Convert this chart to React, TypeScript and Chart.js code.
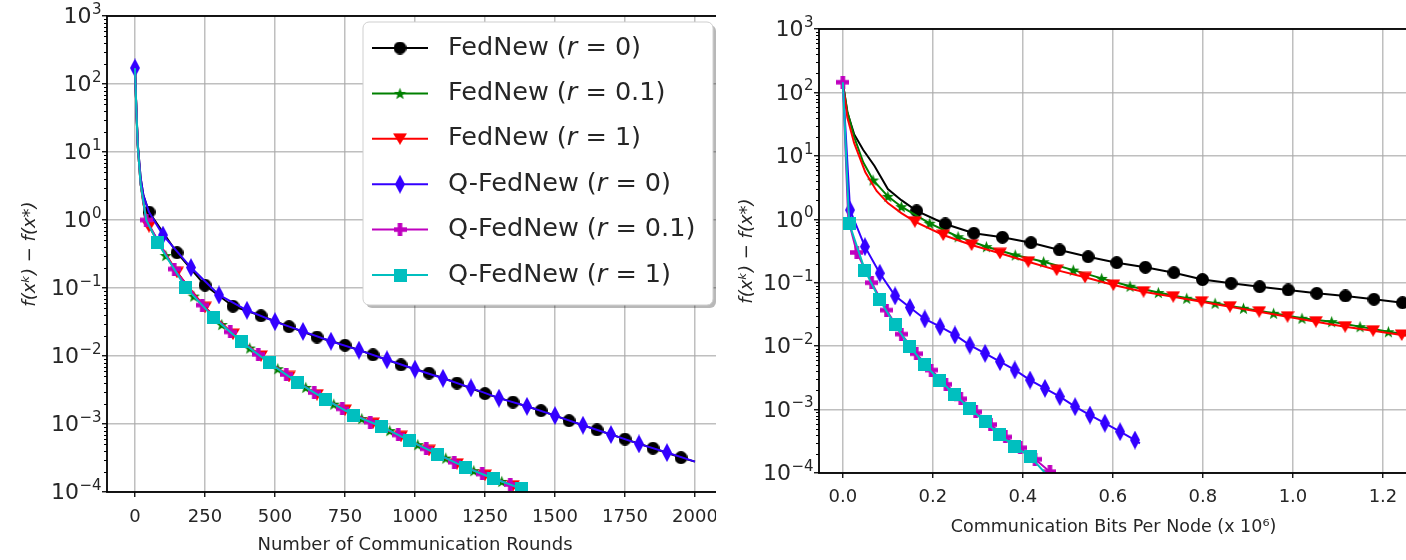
import React, { useEffect, useRef } from 'react';
import { Chart, registerables } from 'chart.js';

Chart.register(...registerables);

const FONT = "'DejaVu Sans'";
const TEXT = '#262626';
const GRID = 'rgba(170,170,170,0.75)';

// ---------- series meta ----------
const seriesNames = ['FedNew', 'FedNew', 'FedNew', 'Q-FedNew', 'Q-FedNew', 'Q-FedNew'];
const seriesR = ['0', '0.1', '1', '0', '0.1', '1'];
const seriesColors = ['#000000', '#008000', '#ff0000', '#3300ff', '#bf00bf', '#00bfbf'];
const seriesMarkers = ['o', '*', 'v', 'd', 'P', 's'];

// ---------- axes ----------
const roundTicks = [0, 250, 500, 750, 1000, 1250, 1500, 1750, 2000];
const bitTicks = [0, 0.2, 0.4, 0.6, 0.8, 1.0, 1.2];
const decadeTicks = [1e-4, 1e-3, 1e-2, 1e-1, 1, 10, 100, 1000];
const decadeBase = '10';
const decadeExponents = ['−4', '−3', '−2', '−1', '0', '1', '2', '3'];

// ---------- left panel: rounds ----------
const lBlackX = [0, 5, 10, 20, 30, 50, 150, 250, 350, 450, 550, 650, 750, 850, 950, 1050, 1150, 1250, 1350, 1450, 1550, 1650, 1750, 1850, 1950, 2000];
const lBlackY = [168, 42, 13, 4.2, 2.3, 1.31, 0.33, 0.11, 0.054, 0.039, 0.027, 0.019, 0.0144, 0.0104, 0.0074, 0.0056, 0.004, 0.0028, 0.0021, 0.00157, 0.00112, 0.00082, 0.0006, 0.00044, 0.00032, 0.00028];
const lBlackMarks = [[5, 24]];

const lGreenX = [0, 5, 10, 20, 40, 110, 210, 310, 410, 510, 610, 710, 810, 910, 1010, 1110, 1210, 1310, 1390];
const lGreenY = [170, 40, 12, 3.4, 1.0, 0.30, 0.076, 0.029, 0.0131, 0.0065, 0.00345, 0.00196, 0.0012, 0.0008, 0.000497, 0.000315, 0.000206, 0.000143, 0.0001];
const lGreenMarks = [[5, 17]];

const lRedX = [0, 5, 10, 20, 30, 50, 150, 250, 350, 450, 550, 650, 750, 850, 950, 1050, 1150, 1250, 1350, 1390];
const lRedY = [170, 40, 12, 3.4, 1.7, 0.8, 0.17, 0.052, 0.021, 0.01, 0.005, 0.0027, 0.0016, 0.00103, 0.00066, 0.00041, 0.00026, 0.000177, 0.000124, 0.0001];
const lRedMarks = [[5, 18]];

const lBlueX = [0, 5, 10, 20, 30, 50, 100, 200, 300, 400, 500, 600, 700, 800, 900, 1000, 1100, 1200, 1300, 1400, 1500, 1600, 1700, 1800, 1900, 2000];
const lBlueY = [172, 42, 13, 4.2, 2.3, 1.31, 0.6, 0.2, 0.079, 0.047, 0.032, 0.023, 0.0165, 0.0122, 0.0088, 0.0064, 0.0047, 0.0034, 0.0024, 0.00182, 0.00133, 0.00096, 0.0007, 0.00051, 0.00038, 0.00028];
const lBlueMarks = [[0, 0], [6, 24]];

const lMagX = [0, 5, 10, 20, 40, 140, 240, 340, 440, 540, 640, 740, 840, 940, 1040, 1140, 1240, 1340, 1390];
const lMagY = [170, 40, 12, 3.4, 1.0, 0.19, 0.056, 0.0226, 0.0106, 0.00535, 0.0029, 0.00167, 0.00107, 0.00069, 0.000432, 0.000275, 0.000184, 0.000129, 0.0001];
const lMagMarks = [[4, 17]];

const lCyanX = [0, 5, 10, 20, 40, 80, 180, 280, 380, 480, 580, 680, 780, 880, 980, 1080, 1180, 1280, 1380, 1400];
const lCyanY = [170, 40, 12, 3.4, 1.0, 0.47, 0.103, 0.037, 0.0162, 0.0079, 0.0041, 0.0023, 0.00135, 0.00092, 0.00057, 0.00036, 0.00023, 0.000158, 0.000112, 0.0001];
const lCyanMarks = [[5, 18]];

// ---------- right panel: bits per node (x 10^6) ----------
const rBlackX = [0, 0.01, 0.025, 0.045, 0.07, 0.1, 0.13, 0.164, 0.2275, 0.291, 0.3545, 0.418, 0.4815, 0.545, 0.6085, 0.672, 0.7355, 0.799, 0.8625, 0.926, 0.9895, 1.053, 1.1165, 1.18, 1.2435, 1.27];
const rBlackY = [140, 48, 22, 12.5, 7, 3.0, 2.0, 1.36, 0.843, 0.601, 0.52, 0.428, 0.328, 0.257, 0.207, 0.175, 0.144, 0.112, 0.098, 0.0865, 0.0768, 0.068, 0.0618, 0.0548, 0.0484, 0.046];
const rBlackMarks = [[7, 24]];

const rGreenX = [0, 0.01, 0.025, 0.045, 0.067, 0.1, 0.13, 0.193, 0.256, 0.319, 0.383, 0.446, 0.512, 0.575, 0.638, 0.701, 0.764, 0.827, 0.89, 0.957, 1.02, 1.086, 1.149, 1.212, 1.27];
const rGreenY = [140, 50, 20, 8, 4.16, 2.3, 1.58, 0.865, 0.531, 0.37, 0.274, 0.214, 0.158, 0.117, 0.088, 0.07, 0.0568, 0.0474, 0.0395, 0.033, 0.0275, 0.0243, 0.0203, 0.0169, 0.0145];
const rGreenMarks = [[4, 23]];

const rRedX = [0, 0.01, 0.025, 0.05, 0.075, 0.1, 0.13, 0.16, 0.223, 0.286, 0.349, 0.412, 0.475, 0.538, 0.601, 0.668, 0.734, 0.797, 0.86, 0.925, 0.988, 1.051, 1.116, 1.178, 1.2416, 1.27];
const rRedY = [140, 40, 16, 5.5, 2.8, 1.8, 1.25, 0.916, 0.565, 0.393, 0.291, 0.214, 0.158, 0.1216, 0.092, 0.0722, 0.0602, 0.0502, 0.0419, 0.0349, 0.0291, 0.0243, 0.0203, 0.0175, 0.015, 0.014];
const rRedMarks = [[7, 24]];

const rBlueX = [0, 0.016, 0.049, 0.082, 0.116, 0.149, 0.182, 0.216, 0.249, 0.282, 0.316, 0.349, 0.382, 0.416, 0.449, 0.482, 0.516, 0.549, 0.582, 0.616, 0.649, 0.66];
const rBlueY = [140, 1.4, 0.37, 0.141, 0.062, 0.0407, 0.0268, 0.0203, 0.015, 0.0104, 0.0077, 0.00569, 0.00421, 0.00292, 0.00216, 0.0016, 0.00111, 0.00082, 0.00061, 0.000448, 0.000331, 0.000294];
const rBlueMarks = [[1, 20]];

const rMagX = [0, 0.012, 0.031, 0.064, 0.097, 0.13, 0.163, 0.196, 0.229, 0.262, 0.295, 0.328, 0.361, 0.394, 0.427, 0.46, 0.464];
const rMagY = [145, 1.0, 0.3, 0.1, 0.037, 0.0155, 0.0076, 0.0042, 0.0025, 0.00148, 0.00092, 0.00058, 0.00037, 0.00025, 0.000165, 0.000105, 0.0001];
const rMagMarks = [[0, 0], [2, 15]];

const rCyanX = [0, 0.014, 0.049, 0.082, 0.116, 0.149, 0.182, 0.215, 0.249, 0.282, 0.316, 0.349, 0.382, 0.416, 0.449];
const rCyanY = [145, 0.865, 0.158, 0.0535, 0.0216, 0.0098, 0.00505, 0.00292, 0.0017, 0.00105, 0.000645, 0.000398, 0.00026, 0.000181, 0.000101];
const rCyanMarks = [[1, 13]];

// ---------- helpers ----------
function makeMarker(kind: string, color: string): HTMLCanvasElement {
  const c = document.createElement('canvas');
  let w = 13, h = 13;
  if (kind === 'd') { w = 10; h = 19; }
  if (kind === '*') { w = 13; h = 13; }
  if (kind === 'v') { w = 14; h = 12; }
  if (kind === 'P') { w = 13; h = 13; }
  c.width = w; c.height = h;
  const g = c.getContext('2d')!;
  g.fillStyle = color;
  g.beginPath();
  if (kind === 'o') {
    g.arc(w / 2, h / 2, 6.5, 0, Math.PI * 2);
  } else if (kind === '*') {
    const R = 6.4, r = 2.6;
    for (let i = 0; i < 10; i++) {
      const a = -Math.PI / 2 + (i * Math.PI) / 5;
      const rr = i % 2 === 0 ? R : r;
      const px = w / 2 + rr * Math.cos(a), py = h / 2 + 0.6 + rr * Math.sin(a);
      if (i === 0) g.moveTo(px, py); else g.lineTo(px, py);
    }
    g.closePath();
  } else if (kind === 'v') {
    g.moveTo(0, 0.5); g.lineTo(w, 0.5); g.lineTo(w / 2, h); g.closePath();
  } else if (kind === 'd') {
    g.moveTo(w / 2, 0); g.lineTo(w, h / 2); g.lineTo(w / 2, h); g.lineTo(0, h / 2); g.closePath();
  } else if (kind === 'P') {
    const a = 4.6, b = (w - a) / 2;
    g.rect(b, 0, a, h); g.rect(0, b, w, a);
  } else {
    g.rect(0, 0, w, h);
  }
  g.fill();
  return c;
}

function inRanges(i: number, ranges: number[][]) {
  return ranges.some(([a, b]) => i >= a && i <= b);
}

function makeDataset(xs: number[], ys: number[], idx: number, marks: number[][], markers: HTMLCanvasElement[]) {
  return {
    label: `${seriesNames[idx]} (r = ${seriesR[idx]})`,
    data: xs.map((x, i) => ({ x, y: ys[i] })),
    borderColor: seriesColors[idx],
    backgroundColor: seriesColors[idx],
    borderWidth: 2,
    pointStyle: markers[idx],
    pointRadius: (c: any) => (inRanges(c.dataIndex, marks) ? 6.5 : 0),
    pointHoverRadius: 0,
    pointBorderWidth: 0,
    pointHitRadius: 0,
    tension: 0,
    order: 6 - idx,
  };
}

// frame, minor ticks and power-of-ten tick labels
const framePlugin = {
  id: 'mplFrame',
  afterDraw(chart: any) {
    const { ctx, chartArea: a, scales } = chart;
    const y = scales.y;
    ctx.save();
    ctx.strokeStyle = '#000';
    ctx.lineWidth = 1;
    for (let e = -4; e < 3; e++) {
      for (let m = 2; m < 10; m++) {
        const py = Math.round(y.getPixelForValue(m * Math.pow(10, e))) + 0.5;
        ctx.beginPath();
        ctx.moveTo(a.left - 3, py);
        ctx.lineTo(a.left, py);
        ctx.stroke();
      }
    }
    ctx.lineWidth = 1.8;
    ctx.strokeRect(a.left, a.top, a.right - a.left, a.bottom - a.top);

    ctx.fillStyle = TEXT;
    ctx.textAlign = 'right';
    ctx.textBaseline = 'middle';
    const right = a.left - 5.5;
    decadeTicks.forEach((v, i) => {
      const py = y.getPixelForValue(v);
      const exp = decadeExponents[i];
      ctx.font = `15px ${FONT}`;
      const ew = ctx.measureText(exp).width;
      ctx.fillText(exp, right, py - 6);
      ctx.font = `22px ${FONT}`;
      ctx.fillText(decadeBase, right - ew - 0.5, py + 1.5);
    });
    ctx.restore();
  },
};

function legendPlugin(markers: HTMLCanvasElement[]) {
  return {
    id: 'mplLegend',
    afterDraw(chart: any) {
      const ctx = chart.ctx as CanvasRenderingContext2D;
      const x0 = 363, y0 = 22, w = 350, h = 283, rad = 6;
      ctx.save();
      const rr = (x: number, y: number) => {
        ctx.beginPath();
        if ((ctx as any).roundRect) (ctx as any).roundRect(x, y, w, h, rad);
        else ctx.rect(x, y, w, h);
      };
      rr(x0 + 3, y0 + 3);
      ctx.fillStyle = 'rgba(0,0,0,0.28)';
      ctx.fill();
      rr(x0, y0);
      ctx.fillStyle = '#ffffff';
      ctx.fill();
      ctx.strokeStyle = '#cfcfcf';
      ctx.lineWidth = 1;
      ctx.stroke();
      const normal = `25.5px ${FONT}`;
      const ital = `italic 25.5px ${FONT}`;
      for (let i = 0; i < seriesNames.length; i++) {
        const cy = 48 + i * 45.4;
        ctx.strokeStyle = seriesColors[i];
        ctx.lineWidth = 2;
        ctx.beginPath();
        ctx.moveTo(372, cy);
        ctx.lineTo(428, cy);
        ctx.stroke();
        const m = markers[i];
        ctx.drawImage(m, 400 - m.width / 2, cy - m.height / 2);
        ctx.fillStyle = TEXT;
        ctx.textBaseline = 'middle';
        ctx.textAlign = 'left';
        let tx = 448;
        const p1 = `${seriesNames[i]} (`;
        ctx.font = normal;
        ctx.fillText(p1, tx, cy);
        tx += ctx.measureText(p1).width;
        ctx.font = ital;
        ctx.fillText('r', tx, cy);
        tx += ctx.measureText('r').width;
        ctx.font = normal;
        ctx.fillText(` = ${seriesR[i]})`, tx, cy);
      }
      ctx.restore();
    },
  };
}

function yAxis(width: number, titlePad: number) {
  return {
    type: 'logarithmic',
    min: 1e-4,
    max: 1e3,
    afterBuildTicks: (s: any) => {
      s.ticks = decadeTicks.map((v) => ({ value: v }));
    },
    afterFit: (s: any) => {
      s.width = width;
    },
    ticks: {
      display: false,
      autoSkip: false,
    },
    grid: { color: GRID, lineWidth: 1.5, drawTicks: true, tickLength: 5, tickColor: '#000', tickWidth: 1.3 },
    border: { display: false },
    title: {
      display: true,
      text: 'f(xᵏ) − f(x*)',
      color: TEXT,
      font: { family: FONT, size: 18, style: 'italic' },
      padding: { top: titlePad, bottom: 0 },
    },
  };
}

function xAxis(min: number, max: number, ticks: number[], fmt: (v: number) => string, title: string, titleSize: number, titlePadBottom: number, tickPad: number, height: number) {
  return {
    type: 'linear',
    min,
    max,
    afterBuildTicks: (s: any) => {
      s.ticks = ticks.map((v) => ({ value: v }));
    },
    afterFit: (s: any) => {
      s.height = height;
    },
    ticks: {
      autoSkip: false,
      maxRotation: 0,
      padding: tickPad,
      color: TEXT,
      font: { family: FONT, size: 18 },
      callback: (v: any) => fmt(Number(v)),
    },
    grid: { color: GRID, lineWidth: 1.5, drawTicks: true, tickLength: 5, tickColor: '#000', tickWidth: 1.3 },
    border: { display: false },
    title: {
      display: true,
      text: title,
      color: TEXT,
      font: { family: FONT, size: titleSize },
      padding: { top: 0, bottom: titlePadBottom },
    },
  };
}

function baseOptions(padding: any, scales: any) {
  return {
    responsive: false,
    animation: false,
    devicePixelRatio: 1,
    events: [],
    layout: { autoPadding: false, padding },
    plugins: { legend: { display: false }, tooltip: { enabled: false } },
    scales,
  };
}

export default function App() {
  const leftRef = useRef<HTMLCanvasElement | null>(null);
  const rightRef = useRef<HTMLCanvasElement | null>(null);

  useEffect(() => {
    Chart.defaults.font.family = FONT;
    const markers = seriesMarkers.map((m, i) => makeMarker(m, seriesColors[i]));

    const left = new Chart(leftRef.current as HTMLCanvasElement, {
      type: 'line',
      data: {
        datasets: [
          makeDataset(lBlackX, lBlackY, 0, lBlackMarks, markers),
          makeDataset(lGreenX, lGreenY, 1, lGreenMarks, markers),
          makeDataset(lRedX, lRedY, 2, lRedMarks, markers),
          makeDataset(lBlueX, lBlueY, 3, lBlueMarks, markers),
          makeDataset(lMagX, lMagY, 4, lMagMarks, markers),
          makeDataset(lCyanX, lCyanY, 5, lCyanMarks, markers),
        ] as any,
      },
      options: baseOptions({ top: 16, left: 0, right: 37, bottom: 0 }, {
        x: xAxis(-100, 2100, roundTicks, (v) => String(v), 'Number of Communication Rounds', 18, 4, 9.5, 68),
        y: yAxis(107, 20),
      }) as any,
      plugins: [framePlugin, legendPlugin(markers)] as any,
    });

    const right = new Chart(rightRef.current as HTMLCanvasElement, {
      type: 'line',
      data: {
        datasets: [
          makeDataset(rBlackX, rBlackY, 0, rBlackMarks, markers),
          makeDataset(rGreenX, rGreenY, 1, rGreenMarks, markers),
          makeDataset(rRedX, rRedY, 2, rRedMarks, markers),
          makeDataset(rBlueX, rBlueY, 3, rBlueMarks, markers),
          makeDataset(rMagX, rMagY, 4, rMagMarks, markers),
          makeDataset(rCyanX, rCyanY, 5, rCyanMarks, markers),
        ] as any,
      },
      options: baseOptions({ top: 29, left: 0, right: 32, bottom: 0 }, {
        x: xAxis(-0.053, 1.2556, bitTicks, (v) => v.toFixed(1), 'Communication Bits Per Node (x 10⁶)', 17.5, 22, 9, 87),
        y: yAxis(99, 17),
      }) as any,
      plugins: [framePlugin] as any,
    });

    return () => {
      left.destroy();
      right.destroy();
    };
  }, []);

  return (
    <div style={{ position: 'absolute', left: 0, top: 0, width: 1406, height: 560, overflow: 'hidden', background: '#fff' }}>
      <div style={{ position: 'absolute', left: 0, top: 0, width: 716, height: 560, overflow: 'hidden' }}>
        <canvas ref={leftRef} width={760} height={560} style={{ display: 'block', width: 760, height: 560 }} />
      </div>
      <div style={{ position: 'absolute', left: 720, top: 0, width: 686, height: 560, overflow: 'hidden' }}>
        <canvas ref={rightRef} width={720} height={560} style={{ display: 'block', width: 720, height: 560 }} />
      </div>
    </div>
  );
}
